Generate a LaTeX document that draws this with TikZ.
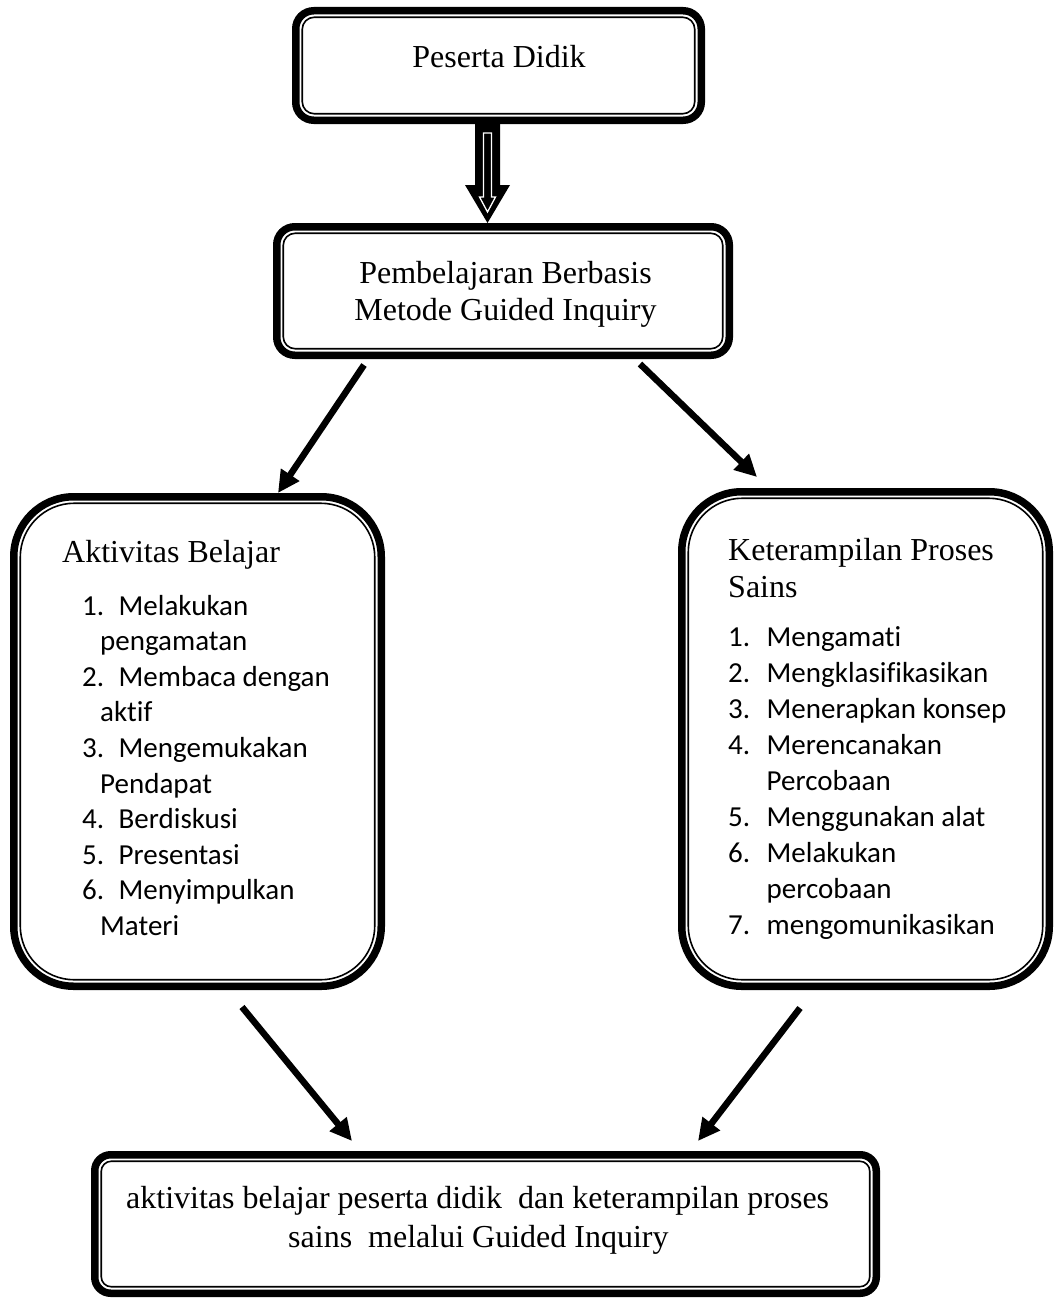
\documentclass[tikz,border=0pt]{standalone}
\usepackage{fontspec}
\setmainfont{Liberation Serif}
\newfontfamily\calibri[Ligatures=CommonOff]{Carlito}
\usetikzlibrary{arrows.meta,calc}
\tikzset{
  boxouter/.style={draw, line width=7.5pt, rounded corners=#1, inner sep=0pt, outer sep=0pt},
  boxinner/.style={draw, line width=1.6pt, rounded corners=#1},
  ser/.style={font=\fontsize{32}{38}\selectfont, inner sep=0pt},
  lst/.style={font=\calibri\fontsize{29}{35}\selectfont, inner sep=0pt, anchor=base west},
  conn/.style={line width=6.5pt, -{Triangle[length=22pt,width=21pt]}},
}
\begin{document}
\begin{tikzpicture}[x=1pt,y=-1pt]
\useasboundingbox (0,0) rectangle (1055,1298);

% boxes
\node[boxouter=18pt, minimum width=405.5pt, minimum height=109.5pt] (b1) at (498.5,65.5) {};
\node[boxouter=18pt, minimum width=452.5pt, minimum height=128.5pt] (b2) at (503,291) {};
\node[boxouter=60pt, minimum width=367.5pt, minimum height=489.5pt] (b3) at (197.5,741.5) {};
\node[boxouter=60pt, minimum width=367.5pt, minimum height=494.5pt] (b4) at (865.5,739) {};
\node[boxouter=16pt, minimum width=781.5pt, minimum height=138.5pt] (b5) at (485.5,1224) {};

\foreach \b/\r in {b1/12pt, b2/12pt, b3/54pt, b4/54pt, b5/10pt}{
  \draw[boxinner=\r] ($(\b.south west)+(6.5pt,6.5pt)$) rectangle ($(\b.north east)-(6.5pt,6.5pt)$);
}

% hollow block arrow
\fill (475,120) -- (500,120) -- (500,185) -- (510,185) -- (487.5,223) -- (465,185) -- (475,185) -- cycle;
\draw[white, line width=1.3pt] (483.5,133) -- (491.5,133) -- (491.5,197) -- (495.5,197) -- (487.5,212) -- (479.5,197) -- (483.5,197) -- cycle;

% connectors
\coordinate (a1s) at (364,365);
\coordinate (a1e) at (278,493);
\coordinate (a2s) at (640,364);
\coordinate (a2e) at (757,477);
\coordinate (a3s) at (242,1007);
\coordinate (a3e) at (352,1141);
\coordinate (a4s) at (800,1008);
\coordinate (a4e) at (698,1141);
\draw[conn] (a1s) -- (a1e);
\draw[conn] (a2s) -- (a2e);
\draw[conn] (a3s) -- (a3e);
\draw[conn] (a4s) -- (a4e);

% texts
\node[ser, anchor=base] (t1) at (499,67) {Peserta Didik};
\node[ser, anchor=base] (t2a) at (505.5,283) {Pembelajaran Berbasis};
\node[ser, anchor=base] (t2b) at (505.5,320) {Metode Guided Inquiry};

\node[ser, anchor=base west] (t3) at (62,562) {Aktivitas Belajar};
\node[lst] (l31) at (82,615) {\makebox[36.5pt][l]{1.}Melakukan};
\node[lst] (l31b) at (100,650.6) {pengamatan};
\node[lst] (l32) at (82,686.2) {\makebox[36.5pt][l]{2.}Membaca dengan};
\node[lst] (l32b) at (100,721.8) {aktif};
\node[lst] (l33) at (82,757.4) {\makebox[36.5pt][l]{3.}Mengemukakan};
\node[lst] (l33b) at (100,793) {Pendapat};
\node[lst] (l34) at (82,828.6) {\makebox[36.5pt][l]{4.}Berdiskusi};
\node[lst] (l35) at (82,864.2) {\makebox[36.5pt][l]{5.}Presentasi};
\node[lst] (l36) at (82,899.8) {\makebox[36.5pt][l]{6.}Menyimpulkan};
\node[lst] (l36b) at (100,935.4) {Materi};

\node[ser, anchor=base west] (t4a) at (728,560) {Keterampilan Proses};
\node[ser, anchor=base west] (t4b) at (728,597) {Sains};
\node[lst] (l41) at (728,646) {\makebox[38.5pt][l]{1.}Mengamati};
\node[lst] (l42) at (728,682) {\makebox[38.5pt][l]{2.}Mengklasifikasikan};
\node[lst] (l43) at (728,718) {\makebox[38.5pt][l]{3.}Menerapkan konsep};
\node[lst] (l44) at (728,754) {\makebox[38.5pt][l]{4.}Merencanakan};
\node[lst] (l44b) at (766.5,790) {Percobaan};
\node[lst] (l45) at (728,826) {\makebox[38.5pt][l]{5.}Menggunakan alat};
\node[lst] (l46) at (728,862) {\makebox[38.5pt][l]{6.}Melakukan};
\node[lst] (l46b) at (766.5,898) {percobaan};
\node[lst] (l47) at (728,934) {\makebox[38.5pt][l]{7.}mengomunikasikan};

\node[ser, anchor=base west] (t5a) at (126,1208) {aktivitas belajar peserta didik~ dan keterampilan proses};
\node[ser, anchor=base west] (t5b) at (288,1247) {sains~ melalui Guided Inquiry};
\end{tikzpicture}
\end{document}
